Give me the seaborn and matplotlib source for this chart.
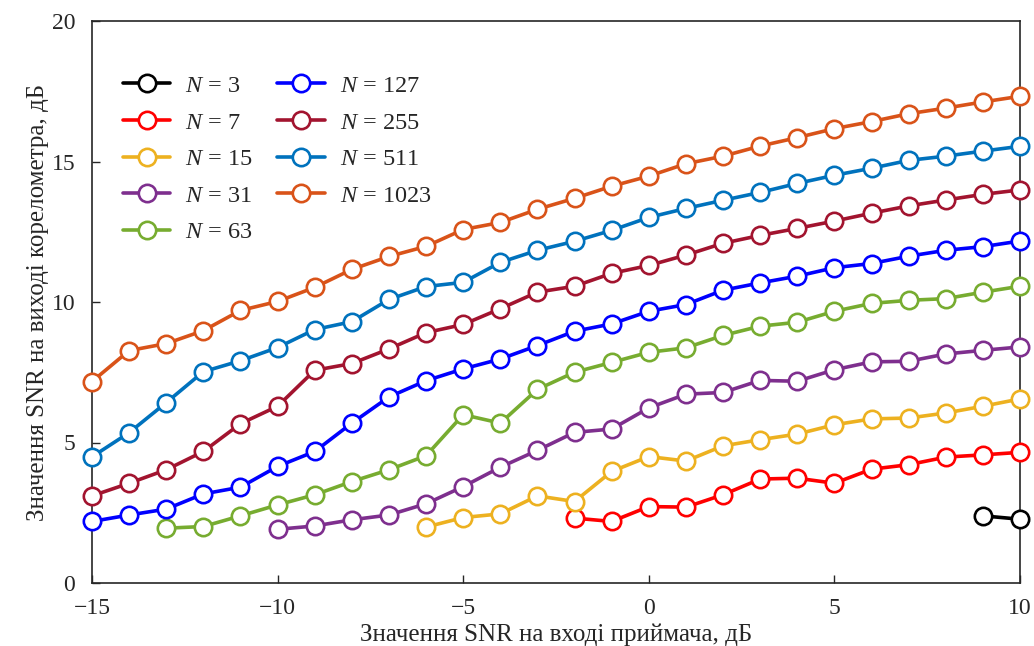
import numpy as np
import pandas as pd
import matplotlib
matplotlib.use("Agg")
import matplotlib.pyplot as plt
import seaborn as sns

# --- data ---
snr_in = list(range(-15, 11))

n_values = [3, 7, 15, 31, 63, 127, 255, 511, 1023]

snr_n3 = [2.39, 2.27]  # x = 9..10
snr_n7 = [2.31, 2.19, 2.72, 2.70, 3.14, 3.70, 3.73, 3.55, 4.05, 4.21,
          4.48, 4.56, 4.65]  # x = -2..10
snr_n15 = [1.99, 2.33, 2.46, 3.10, 2.90, 3.97, 4.50, 4.34, 4.88, 5.10,
           5.30, 5.63, 5.84, 5.87, 6.05, 6.29, 6.55]  # x = -6..10
snr_n31 = [1.91, 2.03, 2.25, 2.42, 2.82, 3.43, 4.12, 4.72, 5.36, 5.48,
           6.23, 6.72, 6.78, 7.21, 7.18, 7.59, 7.87, 7.89, 8.15, 8.28,
           8.40]  # x = -10..10
snr_n63 = [1.95, 2.01, 2.39, 2.78, 3.14, 3.61, 4.03, 4.53, 5.99, 5.69,
           6.89, 7.50, 7.85, 8.21, 8.37, 8.81, 9.14, 9.28, 9.67, 9.95,
           10.06, 10.12, 10.35, 10.56]  # x = -13..10
snr_n127 = [2.19, 2.42, 2.63, 3.17, 3.41, 4.15, 4.68, 5.69, 6.62, 7.20,
            7.62, 7.97, 8.45, 8.96, 9.22, 9.67, 9.91, 10.42, 10.68, 10.92,
            11.22, 11.37, 11.63, 11.84, 11.97, 12.17]
snr_n255 = [3.10, 3.55, 4.03, 4.68, 5.67, 6.29, 7.57, 7.81, 8.33, 8.91,
            9.20, 9.76, 10.35, 10.56, 11.02, 11.30, 11.67, 12.09, 12.37, 12.62,
            12.88, 13.16, 13.42, 13.63, 13.83, 13.99]
snr_n511 = [4.49, 5.35, 6.42, 7.52, 7.91, 8.38, 9.02, 9.30, 10.09, 10.55,
            10.70, 11.41, 11.84, 12.16, 12.55, 13.01, 13.33, 13.62, 13.90, 14.22,
            14.51, 14.76, 15.04, 15.19, 15.37, 15.54]
snr_n1023 = [7.17, 8.27, 8.52, 8.98, 9.70, 10.02, 10.52, 11.16, 11.62, 11.98,
             12.58, 12.83, 13.30, 13.69, 14.12, 14.48, 14.92, 15.19, 15.55, 15.85,
             16.17, 16.42, 16.70, 16.90, 17.12, 17.32]

series = [snr_n3, snr_n7, snr_n15, snr_n31, snr_n63,
          snr_n127, snr_n255, snr_n511, snr_n1023]

colors = ["#000000", "#FF0000", "#EDB120", "#7E2F8E", "#77AC30",
          "#0000FF", "#A2142F", "#0072BD", "#D95319"]

# --- style ---
sns.set_style("ticks")
plt.rcParams["font.family"] = ["Liberation Serif", "DejaVu Serif"]
plt.rcParams["mathtext.fontset"] = "custom"
plt.rcParams["mathtext.rm"] = "Liberation Serif"
plt.rcParams["mathtext.it"] = "Liberation Serif:italic"

fig = plt.figure(figsize=(10.34, 6.46), dpi=100)
ax = fig.add_axes([92 / 1034, 1 - 583 / 646, (1020 - 92) / 1034, (583 - 21) / 646])

for n, vals, col in zip(n_values, series, colors):
    xs = snr_in[len(snr_in) - len(vals):]
    df = pd.DataFrame({"x": xs, "y": vals})
    sns.lineplot(data=df, x="x", y="y", ax=ax, color=col, linewidth=2.6,
                 marker="o", markersize=12.5, markerfacecolor="white",
                 markeredgecolor=col, markeredgewidth=1.9,
                 label=f"$N$ = {n}", clip_on=False, zorder=3)

ax.set_xlim(-15, 10)
ax.set_ylim(0, 20)
ax.set_xticks([-15, -10, -5, 0, 5, 10])
ax.set_yticks([0, 5, 10, 15, 20])
ax.tick_params(direction="in", labelsize=17, length=6, width=1,
               top=False, right=False)
ax.tick_params(axis="y", pad=12)
ax.tick_params(axis="x", pad=11)
for s in ax.spines.values():
    s.set_linewidth(1.2)
    s.set_visible(True)

ax.set_xlabel("Значення SNR на вході приймача, дБ", fontsize=18, labelpad=3)
ax.set_ylabel("Значення SNR на виході корелометра, дБ", fontsize=18, labelpad=2)

ax.legend(loc="upper left", ncol=2, frameon=False, fontsize=17.5,
          handlelength=1.95, handletextpad=0.62, columnspacing=1.0,
          labelspacing=0.6, bbox_to_anchor=(0.0097, 0.943))

fig.savefig("out.png", dpi=100)
